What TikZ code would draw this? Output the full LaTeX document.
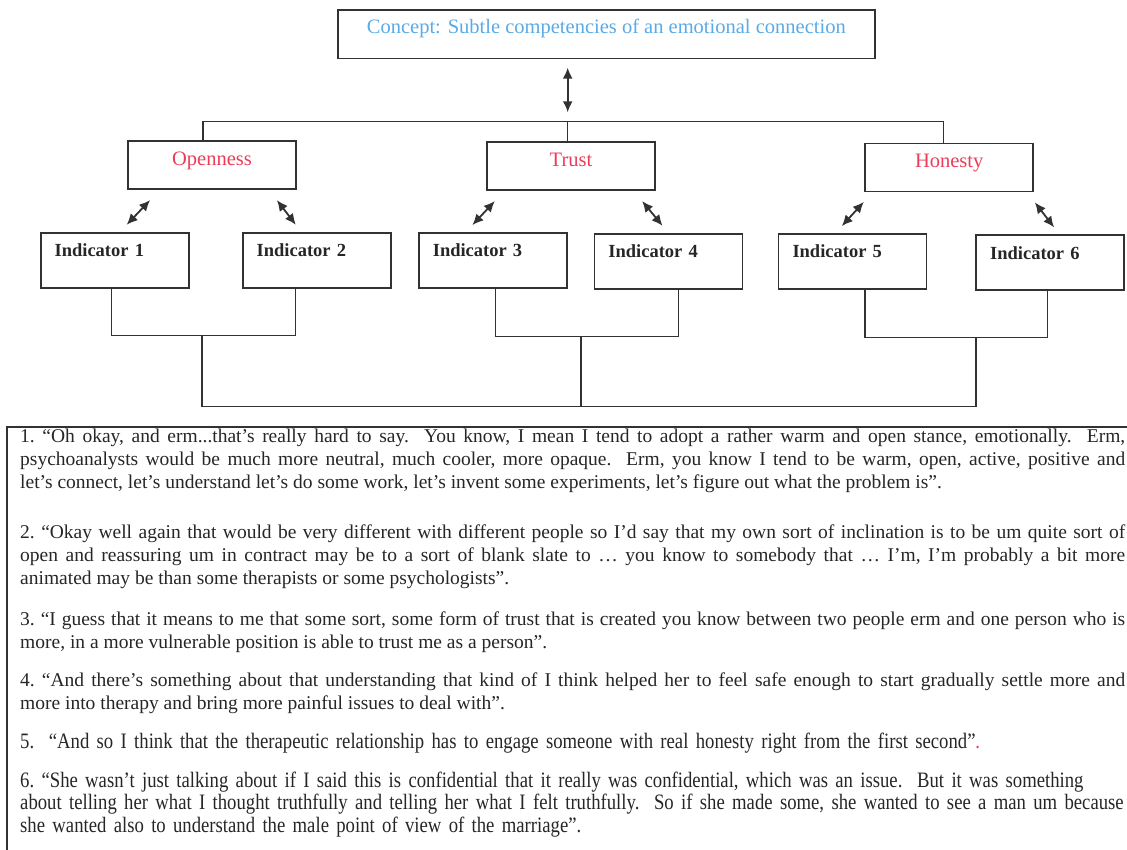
\documentclass[tikz,border=0pt]{standalone}
\usepackage{fontspec}
\setmainfont{Liberation Serif}
\newfontfamily\narrowfont[FakeStretch=0.85]{Liberation Serif}
\usepackage{xcolor}
\usetikzlibrary{arrows.meta}
\definecolor{conceptblue}{RGB}{90,170,230}
\definecolor{themered}{RGB}{235,60,90}
\definecolor{inkgray}{RGB}{50,50,50}

\begin{document}
\begin{tikzpicture}[x=1pt,y=-1pt,
    every node/.style={inner sep=0pt},
    box/.style={draw=inkgray, line width=1.8pt},
    theme/.style={box, minimum width=168pt, text height=24pt, text depth=24pt,
      text=themered, font=\fontsize{20.5}{24}\selectfont},
    indicator/.style={box, text width=120pt, inner xsep=14pt, align=left,
      text height=24pt, text depth=31pt, text=black!85,
      font=\bfseries\fontsize{18.5}{22}\selectfont},
    link/.style={draw=inkgray, line width=1.5pt},
    both/.style={link, line width=1.8pt, {Latex[length=11pt,width=10pt]}-{Latex[length=11pt,width=10pt]}},
    quote/.style={anchor=base west, text width=1105pt, align=justify, text=black!85,
      font=\frenchspacing\fontsize{19.5}{23}\selectfont},
    lastquote/.style={anchor=base west, text width=1105pt, align=left, text=black!85,
      font=\frenchspacing\narrowfont\fontsize{22}{22.7}\selectfont}]
  \useasboundingbox (0,0) rectangle (1127,850);

  \node[box, minimum width=537pt, text height=23.5pt, text depth=25pt, text=conceptblue,
    font=\fontsize{20.5}{24}\selectfont] (concept) at (606.3,34.2)
    {Concept: Subtle competencies of an emotional connection};

  \node[theme] (open) at (212,165.2) {Openness};
  \node[theme] (trust) at (571,166.2) {Trust};
  \node[theme] (honest) at (949.2,167.5) {Honesty};

  \node[indicator] (i1) at (114.6,260.2) {Indicator 1};
  \node[indicator] (i2) at (316.7,260.2) {Indicator 2};
  \node[indicator] (i3) at (492.8,260.5) {Indicator 3};
  \node[indicator] (i4) at (668.4,261.2) {Indicator 4};
  \node[indicator] (i5) at (852.5,261.5) {Indicator 5};
  \node[indicator] (i6) at (1050.2,262.8) {Indicator 6};

  \coordinate (bar) at (567.7,121.7);
  \draw[both] ([shift={(-38.6,8.3)}]concept.south) -- ([shift={(0,-9.4)}]bar);
  \draw[link] ([xshift=-9.2pt]open.north) |- (bar) -| ([xshift=-5.9pt]honest.north);
  \draw[link] (bar) -- (bar |- trust.north);

  \draw[both] ([shift={(23,10)}]open.south west) -- ([shift={(87,-7)}]i1.north west);
  \draw[both] ([shift={(-20,10)}]open.south east) -- ([shift={(54,-7)}]i2.north west);
  \draw[both] ([shift={(8.7,10)}]trust.south west) -- ([shift={(54.5,-7)}]i3.north west);
  \draw[both] ([shift={(-13.7,10)}]trust.south east) -- ([shift={(69,-7)}]i4.north west);
  \draw[both] ([shift={(-0.5,9.5)}]honest.south west) -- ([shift={(64.2,-7)}]i5.north west);
  \draw[both] ([shift={(0.8,10)}]honest.south east) -- ([shift={(78.8,-7)}]i6.north west);

  \coordinate (m12) at (202.2,335.7);
  \coordinate (m34) at (581,336.7);
  \coordinate (m56) at (975.8,337.7);
  \coordinate (base) at (581,406.5);
  \draw[link] ([xshift=-3.2pt]i1.south) |- (m12) -| ([xshift=-21pt]i2.south);
  \draw[link] ([xshift=2.9pt]i3.south) |- (m34) -| ([xshift=9.9pt]i4.south);
  \draw[link] ([xshift=12.5pt]i5.south) |- (m56) -| ([xshift=-2.5pt]i6.south);
  \draw[link] (m12) |- (base) -| (m56);
  \draw[link] (m34) -- (base);

  \draw[box] (1127,426.7) -| (6.7,850);

  \node[quote] (q1) at (20,442) {1. “Oh okay, and erm...that’s really hard to say.\ \ You know, I mean I tend to adopt a rather warm and open stance, emotionally.\ \ Erm,\linebreak
    psychoanalysts would be much more neutral, much cooler, more opaque.\ \ Erm, you know I tend to be warm, open, active, positive and\linebreak
    let’s connect, let’s understand let’s do some work, let’s invent some experiments, let’s figure out what the problem is”.};
  \node[quote] (q2) at (20,538) {2. “Okay well again that would be very different with different people so I’d say that my own sort of inclination is to be um quite sort of\linebreak
    open and reassuring um in contract may be to a sort of blank slate to … you know to somebody that … I’m, I’m probably a bit more\linebreak
    animated may be than some therapists or some psychologists”.};
  \node[quote] (q3) at (20,625) {3. “I guess that it means to me that some sort, some form of trust that is created you know between two people erm and one person who is\linebreak
    more, in a more vulnerable position is able to trust me as a person”.};
  \node[quote] (q4) at (20,686) {4. “And there’s something about that understanding that kind of I think helped her to feel safe enough to start gradually settle more and\linebreak
    more into therapy and bring more painful issues to deal with”.};
  \node[lastquote] (q5) at (20,748) {5.\ \ “And so I think that the therapeutic relationship has to engage someone with real honesty right from the first second”{\color{themered}.}};
  \node[lastquote] (q6) at (20,787) {6. “She wasn’t just talking about if I said this is confidential that it really was confidential, which was an issue.\ \ But it was something\\
    about telling her what I thought truthfully and telling her what I felt truthfully.\ \ So if she made some, she wanted to see a man um because\\
    she wanted also to understand the male point of view of the marriage”.};
\end{tikzpicture}
\end{document}
